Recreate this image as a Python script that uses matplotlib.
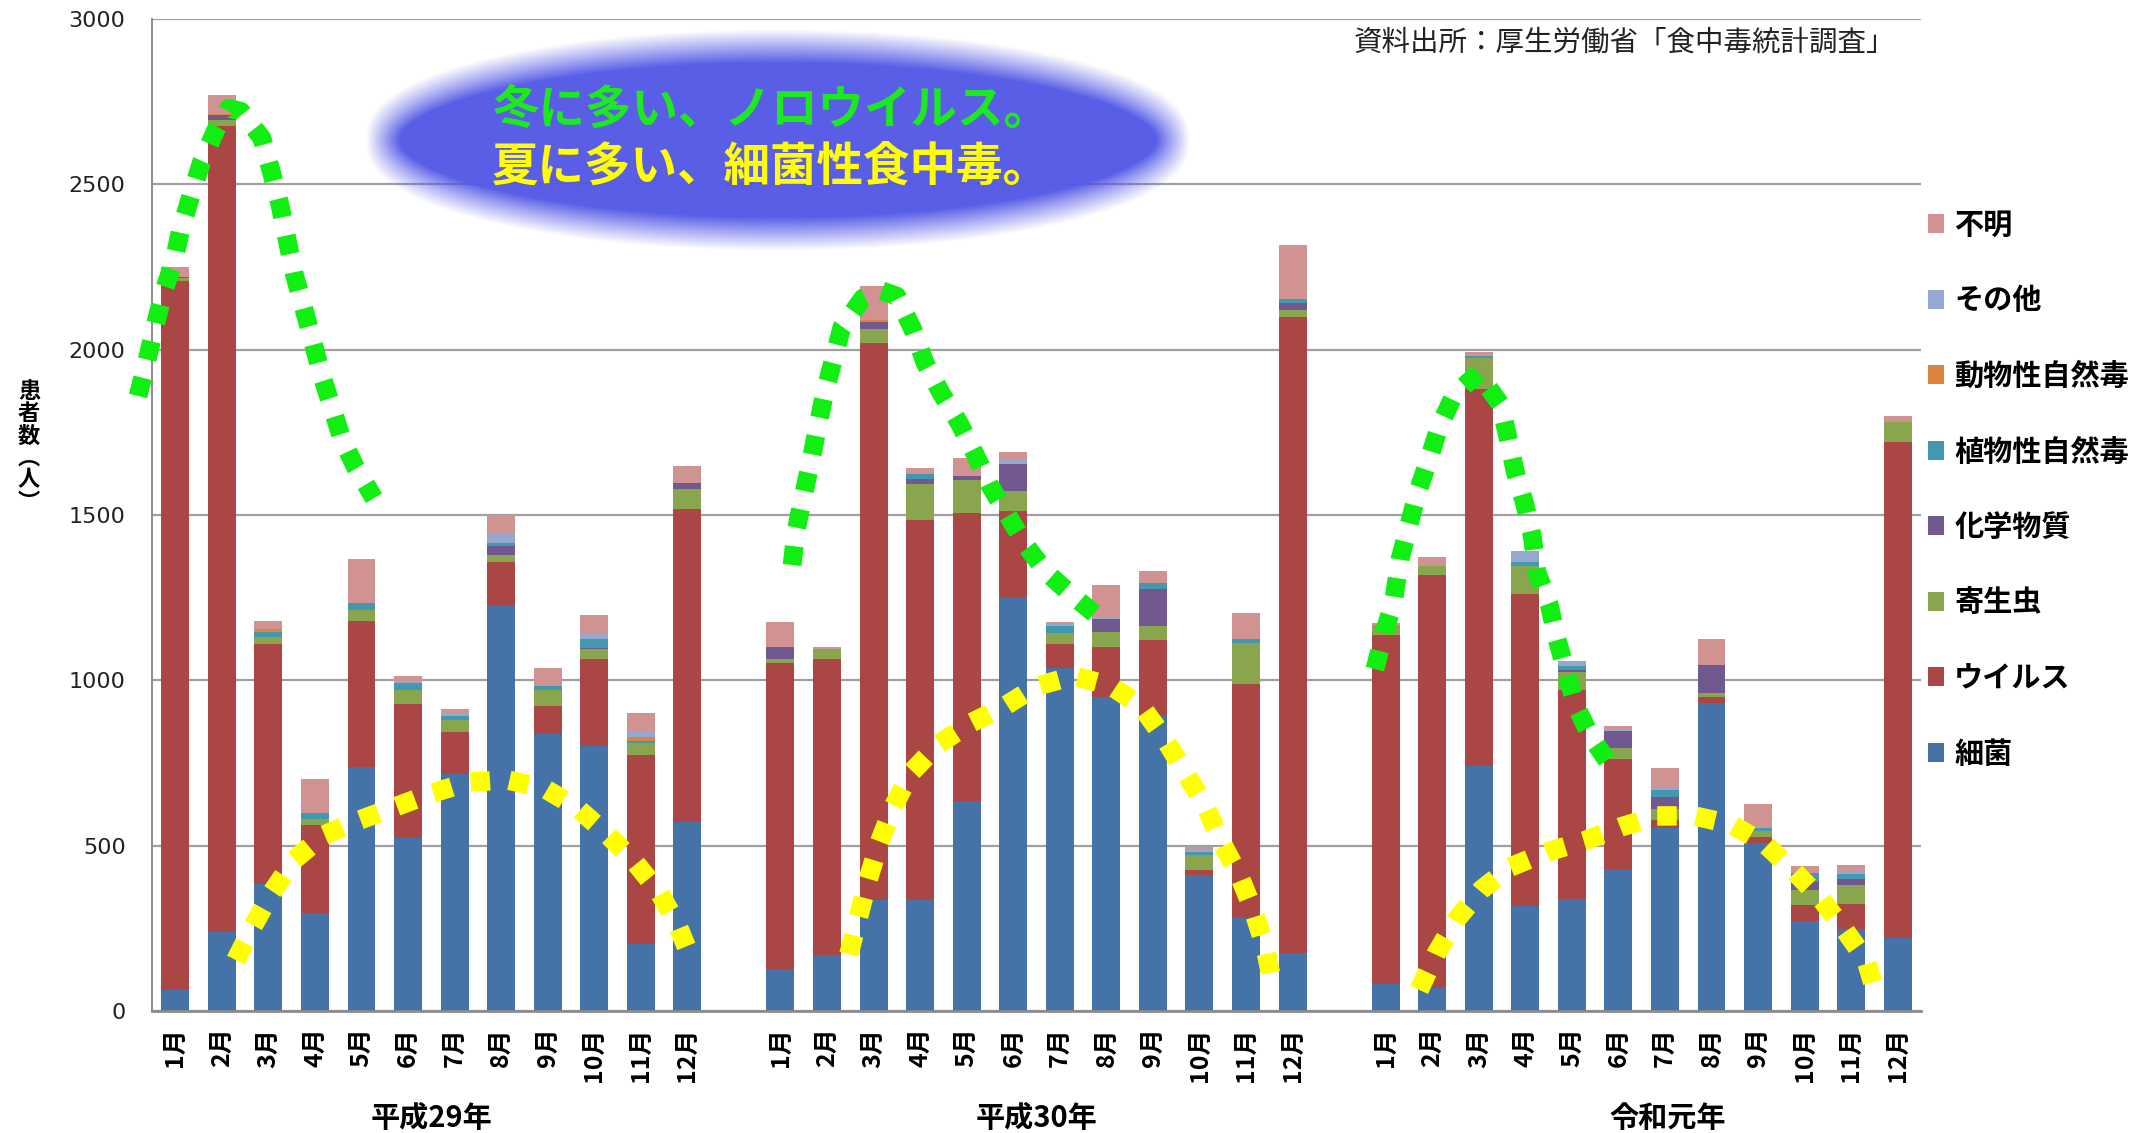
import numpy as np
import matplotlib.pyplot as plt
from matplotlib.colors import to_rgb

plt.rcParams['font.family'] = ['Noto Sans CJK JP', 'DejaVu Sans']

# ---- data (人) ---------------------------------------------------------
years = ["平成29年", "平成30年", "令和元年"]
months = [f"{m}月" for m in range(1, 13)]

categories = ["細菌", "ウイルス", "寄生虫", "化学物質",
              "植物性自然毒", "動物性自然毒", "その他", "不明"]
colors = ["#4572A7", "#AA4643", "#89A54E", "#71588F",
          "#4198AF", "#DB843D", "#93A9CF", "#D19392"]

bacteria = [63, 240, 383, 297, 738, 524, 718, 1224, 838, 801, 204, 572,
            128, 169, 337, 337, 635, 1252, 1038, 949, 896, 412, 280, 175,
            82, 71, 741, 318, 340, 425, 552, 932, 509, 271, 248, 221]
virus = [2146, 2437, 726, 267, 442, 405, 126, 135, 83, 265, 571, 946,
         924, 897, 1683, 1149, 870, 260, 71, 152, 227, 15, 709, 1923,
         1056, 1247, 1139, 944, 630, 336, 26, 17, 17, 49, 75, 1500]
parasite = [8, 18, 23, 17, 32, 41, 37, 20, 49, 30, 34, 60,
            12, 29, 42, 108, 100, 60, 35, 46, 40, 44, 124, 22,
            29, 29, 95, 84, 54, 34, 34, 12, 17, 46, 58, 59]
chemical = [3, 14, 0, 0, 0, 0, 0, 27, 0, 3, 0, 19,
            36, 0, 21, 16, 12, 81, 0, 37, 112, 0, 0, 22,
            0, 0, 0, 0, 6, 51, 36, 85, 0, 23, 17, 0]
plant_toxin = [0, 0, 15, 19, 23, 22, 10, 9, 14, 25, 9, 0,
               0, 0, 0, 15, 0, 0, 19, 0, 20, 10, 11, 12,
               0, 0, 5, 11, 14, 0, 21, 0, 9, 28, 15, 0]
animal_toxin = [0, 5, 8, 0, 0, 0, 0, 0, 0, 0, 11, 0,
                0, 0, 6, 0, 0, 0, 0, 0, 0, 0, 0, 0,
                0, 0, 0, 0, 0, 0, 0, 0, 0, 0, 0, 0]
other = [0, 0, 0, 0, 0, 6, 9, 27, 0, 17, 17, 0,
         0, 0, 0, 0, 0, 13, 7, 7, 0, 5, 0, 0,
         0, 0, 0, 35, 12, 8, 6, 0, 0, 0, 8, 0]
unknown = [30, 55, 23, 101, 132, 14, 13, 58, 53, 58, 55, 51,
           75, 5, 103, 18, 54, 24, 7, 98, 35, 9, 79, 163,
           5, 25, 12, 0, 2, 9, 59, 78, 75, 21, 22, 19]

# hand drawn dotted trend curves (x = category slot, y = 人)
winter_curves = [
    ([-0.80, -0.61, -0.44, -0.26, -0.03, 0.12, 0.34, 0.57, 0.87, 1.15, 1.41, 1.86,
      2.06, 2.25, 2.40, 2.55, 2.74, 2.94, 3.13, 3.35, 3.58, 3.88, 4.27],
     [1860, 1966, 2068, 2171, 2268, 2365, 2467, 2570, 2664, 2730, 2721, 2640,
      2540, 2437, 2334, 2232, 2135, 2032, 1929, 1832, 1730, 1642, 1551]),
    ([13.25, 13.33, 13.48, 13.64, 13.79, 13.94, 14.13, 14.32, 14.77, 15.14, 15.50,
      15.85, 16.11, 16.45, 16.84, 17.18, 17.48, 17.89, 18.28, 18.73, 19.26, 19.76],
     [1349, 1448, 1551, 1654, 1760, 1863, 1966, 2068, 2156, 2180, 2162,
      2059, 1959, 1869, 1778, 1684, 1594, 1497, 1406, 1324, 1258, 1200]),
    ([25.77, 25.99, 26.16, 26.31, 26.68, 26.93, 27.15, 27.47, 27.99, 28.46, 28.63,
      28.78, 28.99, 29.15, 29.25, 29.51, 29.68, 29.88, 30.09, 30.41, 30.82],
     [1034, 1155, 1231, 1367, 1566, 1669, 1766, 1863, 1929, 1836, 1733,
      1633, 1533, 1436, 1327, 1231, 1125, 1025, 922, 829, 744]),
]
summer_curves = [
    ([1.30, 1.67, 2.08, 2.55, 3.19, 3.97, 4.72, 5.52, 6.29, 7.13, 7.92,
      8.61, 9.25, 9.85, 10.39, 10.78, 11.08],
     [154, 257, 360, 457, 532, 578, 617, 659, 692, 699, 674,
      617, 538, 454, 360, 263, 160]),
    ([14.47, 14.67, 14.88, 15.12, 15.42, 15.80, 16.39, 17.09, 17.82, 18.51, 19.31,
      20.10, 20.75, 21.26, 21.67, 22.12, 22.46, 22.85, 23.15, 23.41, 23.56],
     [172, 281, 396, 508, 617, 720, 807, 871, 922, 983, 1013,
      983, 922, 822, 726, 623, 514, 411, 308, 194, 91]),
    ([26.72, 27.08, 27.51, 28.05, 28.67, 29.47, 30.26, 31.04, 31.83, 32.63, 33.42,
      34.15, 34.77, 35.35, 35.83, 36.32, 36.51],
     [64, 172, 275, 366, 435, 481, 514, 556, 590, 590, 565,
      505, 423, 339, 251, 154, 64]),
]

series = [bacteria, virus, parasite, chemical, plant_toxin,
          animal_toxin, other, unknown]

# ---- figure ------------------------------------------------------------
W, H = 2149, 1133
fig = plt.figure(figsize=(W / 100, H / 100), dpi=100)
ax = fig.add_axes([152 / W, 1 - 1011 / H, 1769 / W, 992 / H])

# one empty slot between the years
slots = np.array([i + i // 12 for i in range(36)])

bottom = np.zeros(36)
handles = []
for name, vals, col in zip(categories, series, colors):
    b = ax.bar(slots, vals, width=0.6, bottom=bottom, color=col, label=name,
               zorder=2)
    handles.append(b)
    bottom += np.array(vals)

ax.set_xlim(-0.5, 37.5)
ax.set_ylim(0, 3000)
ax.set_yticks(range(0, 3001, 500))
ax.set_yticklabels([str(v) for v in range(0, 3001, 500)],
                   fontsize=16, family='DejaVu Sans', color='#222222')
ax.set_xticks(slots)
ax.set_xticklabels(months * 3, rotation=90, fontsize=18, fontweight='bold')
ax.tick_params(axis='y', length=0, pad=19)
ax.tick_params(axis='x', length=0, pad=12)

ax.yaxis.grid(True, color='#A0A0A0', lw=1.6, zorder=0)
ax.set_axisbelow(True)
for s in ['top', 'right']:
    ax.spines[s].set_visible(False)
ax.spines['left'].set_color('#8C8C8C')
ax.spines['left'].set_linewidth(1.4)
ax.spines['bottom'].set_color('#8C8C8C')
ax.spines['bottom'].set_linewidth(2)

# year labels under each group (the last one sits a little right of centre)
year_shift = [0, 0, 0.55]
for k, yr in enumerate(years):
    ax.text(slots[k * 12:(k + 1) * 12].mean() + year_shift[k], -0.108, yr,
            transform=ax.get_xaxis_transform(), ha='center', va='center',
            fontsize=21, fontweight='bold')

# dotted trend curves
for cx, cy in winter_curves:
    ax.plot(cx, cy, color='#11EE11', lw=13.5, linestyle=(0, (1, 1)),
            dash_capstyle='butt', zorder=5, clip_on=False)
for cx, cy in summer_curves:
    ax.plot(cx, cy, color='#FFFF00', lw=14, linestyle=(0, (1, 1)),
            dash_capstyle='butt', zorder=5, clip_on=False)

# legend, reversed like Excel
ax.legend(handles[::-1], categories[::-1], loc='upper left',
          bbox_to_anchor=(1928 / W, 1 - 210 / H), bbox_transform=fig.transFigure,
          frameon=False, prop={'size': 21, 'weight': 'bold'},
          handlelength=0.55, handleheight=0.62, handletextpad=0.35,
          labelspacing=1.56, borderpad=0, borderaxespad=0)

# y label, written vertically
fig.text(29 / W, 1 - 447 / H, "患\n者\n数\n︵\n人\n︶", ha='center', va='center',
         fontsize=16, fontweight='bold', linespacing=0.95)

fig.text(1895 / W, 1 - 43 / H, "資料出所：厚生労働省「食中毒統計調査」",
         ha='right', va='center', fontsize=20.5, color='#222222')

# soft blue ellipse with the message
ov = fig.add_axes([350 / W, 1 - 262 / H, 860 / W, 244 / H])
xx, yy = np.meshgrid(np.arange(350, 1210) + 0.5, np.arange(18, 262) + 0.5)
ecx, ecy, ea, eb = 778, 140, 395, 94
u, v = (xx - ecx) / ea, (yy - ecy) / eb
r = np.sqrt(u ** 2 + v ** 2)
g = np.sqrt((u / ea) ** 2 + (v / eb) ** 2) / np.maximum(r, 1e-6)
d = (r - 1) / np.maximum(g, 1e-9)
img = np.ones(xx.shape + (4,))
img[..., :3] = to_rgb('#5257E6')
img[..., 3] = np.clip(0.5 - d / 34, 0, 1) * 0.96
ov.imshow(img, extent=(350, 1210, 262, 18), aspect='auto',
          interpolation='nearest')
ov.axis('off')

fig.text(492 / W, 1 - 110 / H, "冬に多い、ノロウイルス。", color='#1EE81E',
         fontsize=33.5, fontweight='bold', ha='left', va='center')
fig.text(492 / W, 1 - 168 / H, "夏に多い、細菌性食中毒。", color='#FFFF00',
         fontsize=33.5, fontweight='bold', ha='left', va='center')

fig.savefig("out.png", dpi=100)
